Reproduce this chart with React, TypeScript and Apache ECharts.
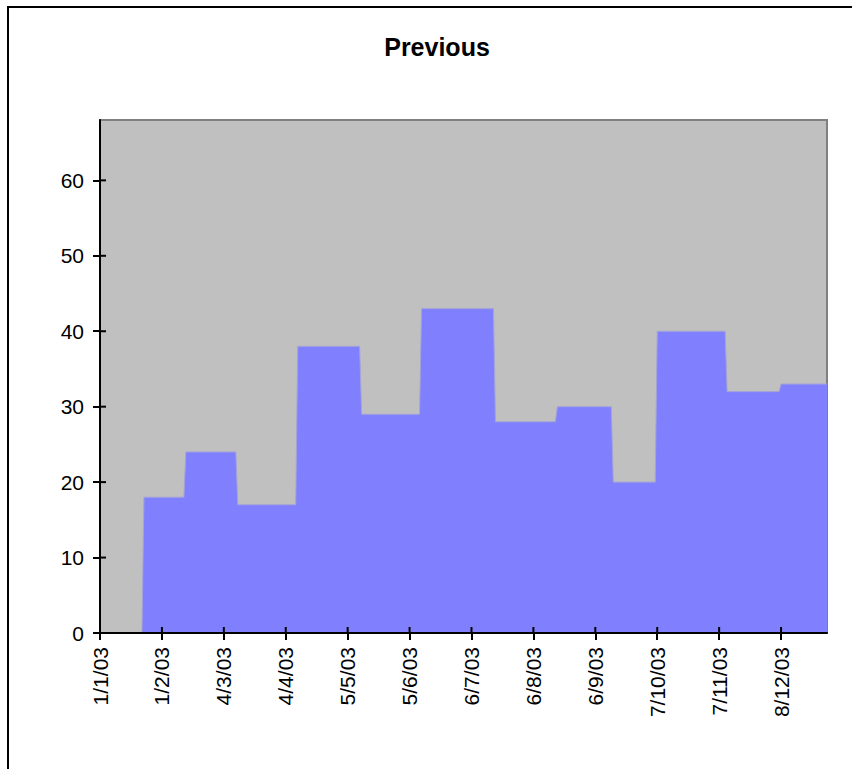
import React, { useEffect, useRef } from "react";
import * as echarts from "echarts";

// Data
const pointDates = [
  "2003-01-22", "2003-01-23", "2003-02-12", "2003-02-13", "2003-03-10", "2003-03-11",
  "2003-04-09", "2003-04-10", "2003-05-11", "2003-05-12", "2003-06-10", "2003-06-11",
  "2003-07-17", "2003-07-18", "2003-08-17", "2003-08-18", "2003-09-14", "2003-09-15",
  "2003-10-06", "2003-10-07", "2003-11-10", "2003-11-11", "2003-12-07", "2003-12-08",
  "2003-12-31",
];
const pointValues = [
  0, 18, 18, 24, 24, 17,
  17, 38, 38, 29, 29, 43,
  43, 28, 28, 30, 30, 20,
  20, 40, 40, 32, 32, 33,
  33,
];
const tickDates = [
  "2003-01-01", "2003-02-01", "2003-03-04", "2003-04-04", "2003-05-05", "2003-06-05",
  "2003-07-06", "2003-08-06", "2003-09-06", "2003-10-07", "2003-11-07", "2003-12-08",
];
const tickLabels = [
  "1/1/03", "1/2/03", "4/3/03", "4/4/03", "5/5/03", "5/6/03",
  "6/7/03", "6/8/03", "6/9/03", "7/10/03", "7/11/03", "8/12/03",
];
const yTicks = [0, 10, 20, 30, 40, 50, 60];
const axisStart = "2003-01-01";
const axisEnd = "2003-12-31";
const title = "Previous";

const DAY = 86400000;
const toDay = (s: string) => {
  const [y, m, d] = s.split("-").map(Number);
  const [y0, m0, d0] = axisStart.split("-").map(Number);
  return Math.round((Date.UTC(y, m - 1, d) - Date.UTC(y0, m0 - 1, d0)) / DAY);
};

const FONT = "'Liberation Sans', Arial, sans-serif";
const W = 852;
const H = 769;
const INNER_TICK = 6;

export default function App() {
  const ref = useRef<HTMLDivElement>(null);
  useEffect(() => {
    if (!ref.current) return;
    const chart = echarts.init(ref.current, null, { renderer: "svg" });
    const tickDays = tickDates.map(toDay);
    const labelMap = new Map<number, string>();
    tickDays.forEach((d, i) => labelMap.set(d, tickLabels[i]));
    const xMax = toDay(axisEnd);
    const data = pointDates.map((d, i) => [toDay(d), pointValues[i]]);
    const tickStyle = { color: "#000", width: 2 };

    chart.setOption({
      animation: false,
      backgroundColor: "#ffffff",
      title: {
        text: title,
        left: 432,
        top: 29,
        textAlign: "center",
        textStyle: { fontFamily: FONT, fontWeight: "bold", fontSize: 25, color: "#000" },
      },
      graphic: [
        {
          type: "rect",
          shape: { x: 8, y: 7, width: 900, height: 820 },
          style: { fill: "none", stroke: "#000", lineWidth: 2 },
          silent: true,
        },
      ],
      grid: {
        left: 100,
        top: 120,
        right: 25,
        bottom: 136,
        show: true,
        backgroundColor: "#C0C0C0",
        borderColor: "#808080",
        borderWidth: 2,
      },
      xAxis: {
        type: "value",
        min: 0,
        max: xMax,
        interval: 31,
        splitLine: { show: false },
        axisLine: { show: true, onZero: false, lineStyle: { color: "#000", width: 2 } },
        axisTick: { show: true, length: 7, customValues: tickDays, lineStyle: tickStyle },
        axisLabel: {
          customValues: tickDays,
          rotate: 90,
          margin: 14,
          fontFamily: FONT,
          fontSize: 21,
          color: "#000",
          formatter: (v: number) => labelMap.get(v) ?? "",
        },
        z: 5,
      },
      yAxis: {
        type: "value",
        min: 0,
        max: 68,
        interval: 10,
        splitLine: { show: false },
        axisLine: { show: true, onZero: false, lineStyle: { color: "#000", width: 2 } },
        axisTick: { show: true, length: 7, customValues: yTicks, lineStyle: tickStyle },
        axisLabel: {
          customValues: yTicks,
          margin: 16,
          fontFamily: FONT,
          fontSize: 21,
          color: "#000",
        },
        z: 5,
      },
      series: [
        {
          type: "line",
          name: title,
          data,
          showSymbol: false,
          symbol: "none",
          lineStyle: { color: "#a4a4d8", width: 1 },
          areaStyle: { color: "#8080FF", opacity: 1 },
          z: 2,
        },
        {
          // inner half of the x-axis cross ticks
          type: "custom",
          silent: true,
          clip: false,
          z: 6,
          data: tickDays.map((d) => [d, 0]),
          encode: { x: 0, y: 1 },
          renderItem: (params: any, api: any) => {
            const p = api.coord([api.value(0), api.value(1)]);
            return {
              type: "line",
              shape: { x1: p[0], y1: p[1], x2: p[0], y2: p[1] - INNER_TICK },
              style: { stroke: "#000", lineWidth: 2 },
            };
          },
        },
        {
          // inner half of the y-axis cross ticks
          type: "custom",
          silent: true,
          clip: false,
          z: 6,
          data: yTicks.map((v) => [0, v]),
          encode: { x: 0, y: 1 },
          renderItem: (params: any, api: any) => {
            const p = api.coord([api.value(0), api.value(1)]);
            return {
              type: "line",
              shape: { x1: p[0], y1: p[1], x2: p[0] + INNER_TICK, y2: p[1] },
              style: { stroke: "#000", lineWidth: 2 },
            };
          },
        },
      ],
    });
    return () => chart.dispose();
  }, []);
  return (
    <div
      ref={ref}
      style={{ position: "fixed", left: 0, top: 0, width: W, height: H }}
    />
  );
}
